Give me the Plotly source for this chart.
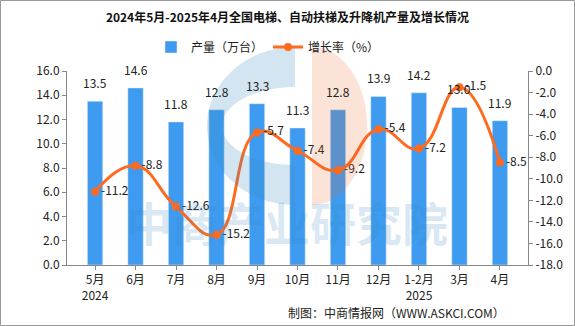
import math
import plotly.graph_objects as go

categories = ["5月<br>2024", "6月", "7月", "8月", "9月", "10月", "11月", "12月", "1-2月<br>2025", "3月", "4月"]
production = [13.5, 14.6, 11.8, 12.8, 13.3, 11.3, 12.8, 13.9, 14.2, 13.0, 11.9]
growth = [-11.2, -8.8, -12.6, -15.2, -5.7, -7.4, -9.2, -5.4, -7.2, -1.5, -8.5]
left_ticks = [0, 2, 4, 6, 8, 10, 12, 14, 16]
right_ticks = [0, -2, -4, -6, -8, -10, -12, -14, -16, -18]

FONT = "Noto Sans CJK SC"
W, H = 575, 326
ml, mr, mt, mb = 67, 47, 71, 61
pw, ph = W - ml - mr, H - mt - mb


def px(x):
    return (x - ml) / pw


def py(y):
    return (H - mb - y) / ph


fig = go.Figure()
fig.add_trace(go.Bar(
    x=categories, y=production, name="产量（万台）",
    marker_color="#3E9BF0", width=0.38,
))
fig.add_trace(go.Scatter(
    x=categories, y=growth, name="增长率（%）", yaxis="y2",
    mode="lines+markers+text",
    line=dict(color="#FF6A1F", width=3, shape="spline", smoothing=1.3),
    marker=dict(color="#FF6A1F", size=8),
    text=[f"{v:.1f}" for v in growth], textposition="middle right",
    textfont=dict(size=12, color="#222", family=FONT), cliponaxis=False,
))

# bar value labels
for c, v in zip(categories, production):
    fig.add_annotation(x=c, y=v, text=f"{v:.1f}", showarrow=False,
                       yanchor="bottom", yshift=8,
                       font=dict(size=12, color="#222", family=FONT))

fig.update_layout(
    width=W, height=H,
    margin=dict(l=ml, r=mr, t=mt, b=mb),
    paper_bgcolor="white", plot_bgcolor="rgba(0,0,0,0)",
    font=dict(family=FONT, size=12, color="#222"),
    title=dict(text="<b>2024年5月-2025年4月全国电梯、自动扶梯及升降机产量及增长情况</b>",
               x=0.5, xanchor="center", y=1 - 18 / H, yanchor="middle",
               font=dict(size=12, color="#111", family=FONT)),
    legend=dict(orientation="h", x=px(268), xanchor="center", y=1 + (mt - 47) / ph, yanchor="middle",
                font=dict(size=12, color="#222"), bgcolor="rgba(0,0,0,0)"),
    xaxis=dict(showgrid=False, showline=True, linecolor="#888", linewidth=1,
               ticks="outside", ticklen=4, tickcolor="#888",
               tickfont=dict(size=12, color="#222")),
    yaxis=dict(range=[0, 16], tickvals=left_ticks, ticktext=[f"{v:.1f}" for v in left_ticks],
               showgrid=False, showline=True, linecolor="#888", linewidth=1,
               ticks="outside", ticklen=4, tickcolor="#888", zeroline=False,
               tickfont=dict(size=12, color="#222")),
    yaxis2=dict(range=[-18, 0], overlaying="y", side="right",
                tickvals=right_ticks, ticktext=[f"{v:.1f}" for v in right_ticks],
                showgrid=False, showline=True, linecolor="#888", linewidth=1,
                ticks="outside", ticklen=4, tickcolor="#888", zeroline=False,
                tickfont=dict(size=12, color="#222")),
)

# watermark logo (decorative)
def ellipse_pts(cx, cy, rx, ry, a0, a1, n=40):
    pts = []
    for i in range(n + 1):
        a = math.radians(a0 + (a1 - a0) * i / n)
        pts.append((cx + rx * math.cos(a), cy - ry * math.sin(a)))
    return pts


def path_from(pts):
    return "M " + " L ".join(f"{px(x):.4f},{py(y):.4f}" for x, y in pts) + " Z"

cx, cy = 295, 126
outer = ellipse_pts(cx, cy, 88, 79, 90, 270)
inner = ellipse_pts(cx, cy, 73, 39, 270, 90)
fig.add_shape(type="path", xref="paper", yref="paper", path=path_from(outer + inner),
              fillcolor="rgba(56,136,188,0.22)", line=dict(width=0), layer="above")
orange = [(312, cy - 79)] + ellipse_pts(312, cy, 55, 79, 90, -90)
fig.add_shape(type="path", xref="paper", yref="paper", path=path_from(orange),
              fillcolor="rgba(235,100,40,0.18)", line=dict(width=0), layer="above")

# watermark text
fig.add_annotation(text="<b>中商产业研究院</b>", xref="paper", yref="paper",
                   x=px(287), y=py(256), showarrow=False,
                   font=dict(size=46, color="rgba(56,136,188,0.2)", family=FONT))
# source
fig.add_annotation(text="制图：中商情报网（WWW.ASKCI.COM）", xref="paper", yref="paper",
                   x=px(507), y=py(312), xanchor="right", yanchor="middle",
                   showarrow=False, font=dict(size=12, color="#222", family=FONT))
# border
fig.add_shape(type="rect", xref="paper", yref="paper",
              x0=px(0.5), x1=px(W - 0.5), y0=py(H - 0.5), y1=py(0.5),
              line=dict(color="#999", width=1))

fig.write_html("out.html")
